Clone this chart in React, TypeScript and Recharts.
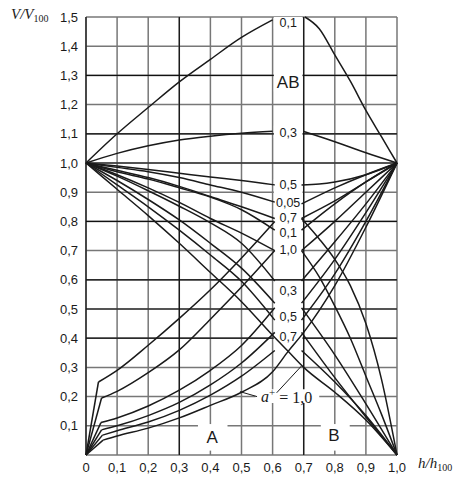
import React from "react";
import {
  LineChart,
  Line,
  XAxis,
  YAxis,
  CartesianGrid,
  ReferenceArea,
  ReferenceDot,
  ReferenceLine,
} from "recharts";

type P = [number, number | null];

const xTicks = [0, 0.1, 0.2, 0.3, 0.4, 0.5, 0.6, 0.7, 0.8, 0.9, 1.0];
const yTicks = [0.1, 0.2, 0.3, 0.4, 0.5, 0.6, 0.7, 0.8, 0.9, 1.0, 1.1, 1.2, 1.3, 1.4, 1.5];
const gridY = [0, ...yTicks];
const darkX = [0, 0.3, 0.7];
const darkY = [0.4, 0.5, 0.6, 0.8, 1.0, 1.1, 1.3];

// AB family: from (0,1) to (1,1)
const ab01: P[] = [[0, 1], [0.1, 1.1], [0.2, 1.19], [0.3, 1.278], [0.4, 1.355], [0.5, 1.43], [0.6, 1.49], [0.65, null], [0.704, 1.5], [0.75, 1.46], [0.8, 1.37], [0.85, 1.28], [0.9, 1.18], [0.95, 1.09], [1, 1]];
const ab03: P[] = [[0, 1], [0.1, 1.033], [0.2, 1.059], [0.3, 1.079], [0.4, 1.092], [0.5, 1.102], [0.6, 1.109], [0.65, null], [0.7, 1.108], [0.8, 1.073], [0.9, 1.035], [1, 1]];
const ab05: P[] = [[0, 1], [0.1, 0.99], [0.2, 0.978], [0.3, 0.965], [0.4, 0.952], [0.5, 0.94], [0.607, 0.925], [0.65, null], [0.693, 0.925], [0.75, 0.928], [0.8, 0.935], [0.9, 0.96], [1, 1]];
const ab07: P[] = [[0, 1], [0.1, 0.975], [0.2, 0.95], [0.3, 0.92], [0.4, 0.885], [0.5, 0.85], [0.607, 0.81], [0.65, null], [0.693, 0.81], [0.8, 0.87], [0.9, 0.935], [1, 1]];
const ab10: P[] = [[0, 1], [0.1, 0.96], [0.2, 0.915], [0.3, 0.865], [0.4, 0.81], [0.5, 0.76], [0.607, 0.7], [0.65, null], [0.693, 0.7], [0.8, 0.8], [0.9, 0.9], [1, 1]];

// A family: from (0,0), sharp knee near h = 0.05, up to (1,1)
const a005: P[] = [[0, 0], [0.04, 0.25], [0.1, 0.29], [0.2, 0.376], [0.3, 0.468], [0.4, 0.566], [0.5, 0.675], [0.607, 0.8], [0.65, null], [0.693, 0.86], [0.8, 0.915], [0.9, 0.96], [1, 1]];
const a01: P[] = [[0, 0], [0.05, 0.195], [0.1, 0.218], [0.2, 0.282], [0.3, 0.36], [0.4, 0.465], [0.5, 0.575], [0.607, 0.7], [0.65, null], [0.693, 0.77], [0.8, 0.86], [0.9, 0.935], [1, 1]];
const a03: P[] = [[0, 0], [0.048, 0.111], [0.1, 0.127], [0.2, 0.168], [0.3, 0.222], [0.4, 0.29], [0.5, 0.375], [0.607, 0.504], [0.65, null], [0.693, 0.596], [0.8, 0.73], [0.9, 0.86], [1, 1]];
const a05: P[] = [[0, 0], [0.05, 0.086], [0.1, 0.1], [0.2, 0.135], [0.3, 0.18], [0.4, 0.24], [0.5, 0.315], [0.607, 0.42], [0.65, null], [0.693, 0.52], [0.8, 0.67], [0.9, 0.83], [1, 1]];
const a07: P[] = [[0, 0], [0.053, 0.068], [0.1, 0.083], [0.2, 0.113], [0.3, 0.153], [0.4, 0.205], [0.5, 0.27], [0.607, 0.358], [0.65, null], [0.693, 0.462], [0.8, 0.62], [0.9, 0.8], [1, 1]];
const a10: P[] = [[0, 0], [0.055, 0.051], [0.1, 0.065], [0.2, 0.092], [0.3, 0.127], [0.4, 0.17], [0.5, 0.215], [0.6, 0.285], [0.65, 0.355], [0.7, 0.42], [0.8, 0.58], [0.9, 0.78], [1, 1]];

// B family: from (0,1) to (1,0)
const b005: P[] = [[0, 1], [0.1, 0.985], [0.2, 0.97], [0.3, 0.95], [0.4, 0.925], [0.5, 0.9], [0.607, 0.866], [0.65, null], [0.693, 0.81], [0.75, 0.74], [0.8, 0.67], [0.85, 0.58], [0.9, 0.45], [0.95, 0.26], [1, 0]];
const b01: P[] = [[0, 1], [0.1, 0.97], [0.2, 0.945], [0.3, 0.915], [0.4, 0.883], [0.5, 0.84], [0.607, 0.77], [0.65, null], [0.693, 0.7], [0.75, 0.61], [0.8, 0.51], [0.85, 0.4], [0.9, 0.27], [0.95, 0.14], [1, 0]];
const b03: P[] = [[0, 1], [0.1, 0.955], [0.2, 0.905], [0.3, 0.852], [0.4, 0.795], [0.5, 0.725], [0.607, 0.596], [0.65, null], [0.693, 0.504], [0.8, 0.343], [0.9, 0.175], [1, 0]];
const b05: P[] = [[0, 1], [0.1, 0.94], [0.2, 0.875], [0.3, 0.805], [0.4, 0.725], [0.5, 0.64], [0.607, 0.52], [0.65, null], [0.693, 0.42], [0.8, 0.265], [0.9, 0.13], [1, 0]];
const b07: P[] = [[0, 1], [0.1, 0.925], [0.2, 0.85], [0.3, 0.77], [0.4, 0.685], [0.5, 0.595], [0.607, 0.462], [0.65, null], [0.693, 0.358], [0.8, 0.25], [0.9, 0.135], [1, 0]];
const b10: P[] = [[0, 1], [0.1, 0.91], [0.2, 0.82], [0.3, 0.725], [0.4, 0.625], [0.5, 0.525], [0.6, 0.41], [0.65, 0.355], [0.7, 0.3], [0.8, 0.215], [0.9, 0.12], [1, 0]];

const smoothCurves = [ab01, ab03, ab05, ab07, ab10, b005, b01, b03, b05, b07, b10];
const kneeCurves = [a005, a01, a03, a05, a07, a10];

const bandLabels: { text: string; y: number }[] = [
  { text: "0,1", y: 1.48 },
  { text: "AB", y: 1.277 },
  { text: "0,3", y: 1.106 },
  { text: "0,5", y: 0.927 },
  { text: "0,05", y: 0.865 },
  { text: "0,7", y: 0.813 },
  { text: "0,1", y: 0.763 },
  { text: "1,0", y: 0.703 },
  { text: "0,3", y: 0.562 },
  { text: "0,5", y: 0.474 },
  { text: "0,7", y: 0.405 },
];

const fmt = (v: number) => (v === 0 ? "0" : v.toFixed(1).replace(".", ","));
const sans = "'Liberation Sans', Arial, sans-serif";
const serif = "'Liberation Serif', 'Times New Roman', serif";
const ink = "#1a1a1a";
const toRows = (c: P[]) => c.map(([x, y]) => ({ x, y }));

const textShape = (text: string, size: number) => (props: any) => (
  <text x={props.cx} y={props.cy} dy="0.36em" textAnchor="middle" fontSize={size} fill={ink} fontFamily={sans}>
    {text}
  </text>
);

const aPlusShape = (props: any) => (
  <text x={props.cx} y={props.cy} dy="0.36em" textAnchor="middle" fontSize={16} fill={ink} fontFamily={serif}>
    <tspan fontStyle="italic">a</tspan>
    <tspan fontSize={11} dy="-0.55em">+</tspan>
    <tspan dy="0.4em"> = 1,0</tspan>
  </text>
);

const lineProps = {
  dataKey: "y",
  stroke: ink,
  strokeWidth: 1.5,
  dot: false,
  activeDot: false,
  isAnimationActive: false,
} as const;

export default function App() {
  return (
    <div style={{ position: "absolute", left: 0, top: 0, width: 459, height: 480, background: "#fff" }}>
      <LineChart width={459} height={480} margin={{ top: 17, right: 62, bottom: 5, left: 46 }}>
        <CartesianGrid stroke="#777" strokeWidth={1.5} verticalValues={xTicks} horizontalValues={gridY} />
        <CartesianGrid stroke="#111" strokeWidth={1.2} verticalValues={darkX} horizontalValues={darkY} />
        <XAxis
          type="number"
          dataKey="x"
          domain={[0, 1]}
          ticks={xTicks}
          tickFormatter={fmt}
          axisLine={false}
          tickLine={false}
          height={20}
          tick={{ fill: ink, fontSize: 13, fontFamily: sans }}
        />
        <YAxis
          type="number"
          domain={[0, 1.5]}
          ticks={yTicks}
          tickFormatter={fmt}
          axisLine={false}
          tickLine={false}
          width={40}
          tick={{ fill: ink, fontSize: 13, fontFamily: sans }}
        />
        {smoothCurves.map((c, i) => (
          <Line key={`s${i}`} data={toRows(c)} type="monotone" {...lineProps} />
        ))}
        {kneeCurves.map((c, i) => (
          <Line key={`k${i}`} data={toRows(c.slice(0, 2))} type="linear" {...lineProps} />
        ))}
        {kneeCurves.map((c, i) => (
          <Line key={`m${i}`} data={toRows(c.slice(1))} type="monotone" {...lineProps} />
        ))}
        <ReferenceArea x1={0.604} x2={0.696} y1={1.46} y2={1.5} fill="#fff" fillOpacity={1} stroke="none" />
        <ReferenceArea x1={0.604} x2={0.696} y1={1.245} y2={1.31} fill="#fff" fillOpacity={1} stroke="none" />
        <ReferenceArea x1={0.604} x2={0.696} y1={1.085} y2={1.128} fill="#fff" fillOpacity={1} stroke="none" />
        <ReferenceArea x1={0.604} x2={0.696} y1={0.685} y2={0.945} fill="#fff" fillOpacity={1} stroke="none" />
        <ReferenceArea x1={0.604} x2={0.696} y1={0.385} y2={0.59} fill="#fff" fillOpacity={1} stroke="none" />
        <ReferenceArea x1={0.545} x2={0.75} y1={0.178} y2={0.225} fill="#fff" fillOpacity={1} stroke="none" />
        <ReferenceArea x1={0.36} x2={0.455} y1={0.015} y2={0.106} fill="#fff" fillOpacity={1} stroke="none" />
        <ReferenceArea x1={0.755} x2={0.848} y1={0.015} y2={0.106} fill="#fff" fillOpacity={1} stroke="none" />
        {bandLabels.map((l, i) => (
          <ReferenceDot key={i} x={0.65} y={l.y} r={0} shape={textShape(l.text, l.text === "AB" ? 17 : 12.5)} />
        ))}
        <ReferenceDot x={0.406} y={0.062} r={0} shape={textShape("A", 17)} />
        <ReferenceDot x={0.797} y={0.068} r={0} shape={textShape("B", 17)} />
        <ReferenceDot x={0.645} y={0.2} r={0} shape={aPlusShape} />
        <ReferenceLine segment={[{ x: 0.495, y: 0.217 }, { x: 0.55, y: 0.2 }]} stroke={ink} strokeWidth={1} />
        <ReferenceLine segment={[{ x: 0.613, y: 0.213 }, { x: 0.693, y: 0.305 }]} stroke={ink} strokeWidth={1} />
      </LineChart>
      <div style={{ position: "absolute", left: 11, top: 6, fontFamily: serif, fontSize: 15, fontStyle: "italic", color: ink, whiteSpace: "nowrap" }}>
        V/V<span style={{ fontStyle: "normal", fontSize: 10, position: "relative", top: 3 }}>100</span>
      </div>
      <div style={{ position: "absolute", left: 418, top: 455, fontFamily: serif, fontSize: 15, fontStyle: "italic", color: ink, whiteSpace: "nowrap" }}>
        h/h<span style={{ fontStyle: "normal", fontSize: 10, position: "relative", top: 3 }}>100</span>
      </div>
    </div>
  );
}
